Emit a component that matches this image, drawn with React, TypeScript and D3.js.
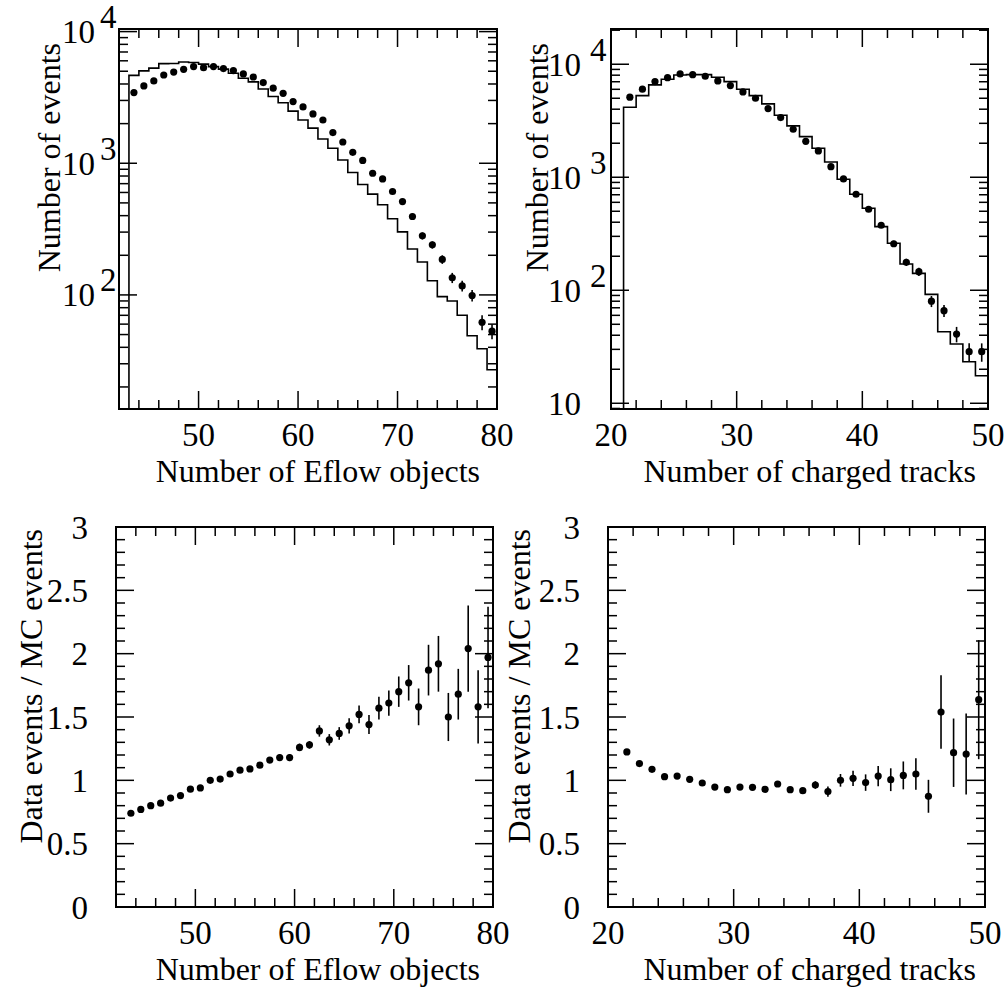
import React from "react";
import * as d3 from "d3";

// ---------- data ----------
const eflowBins = [43.5, 44.5, 45.5, 46.5, 47.5, 48.5, 49.5, 50.5, 51.5, 52.5, 53.5, 54.5, 55.5, 56.5, 57.5, 58.5, 59.5, 60.5, 61.5, 62.5, 63.5, 64.5, 65.5, 66.5, 67.5, 68.5, 69.5, 70.5, 71.5, 72.5, 73.5, 74.5, 75.5, 76.5, 77.5, 78.5, 79.5];
const trackBins = [21.5, 22.5, 23.5, 24.5, 25.5, 26.5, 27.5, 28.5, 29.5, 30.5, 31.5, 32.5, 33.5, 34.5, 35.5, 36.5, 37.5, 38.5, 39.5, 40.5, 41.5, 42.5, 43.5, 44.5, 45.5, 46.5, 47.5, 48.5, 49.5];

const eflowData = [3440, 3870, 4220, 4680, 4930, 5170, 5420, 5320, 5420, 5240, 5060, 4770, 4520, 4100, 3720, 3400, 2940, 2680, 2370, 2130, 1710, 1450, 1210, 1050, 840, 760, 610, 512, 394, 281, 240, 186, 135, 117, 99, 62, 53];
const eflowDataErr = [0, 0, 0, 0, 0, 0, 0, 0, 0, 0, 0, 0, 0, 0, 0, 0, 0, 0, 0, 0, 0, 0, 0, 0, 0, 0, 0, 0, 20, 17, 15, 14, 12, 11, 10, 8, 7];
const eflowMC = [4650, 5030, 5280, 5710, 5730, 5880, 5830, 5660, 5420, 5190, 4820, 4420, 4150, 3660, 3210, 2880, 2490, 2130, 1850, 1530, 1300, 1060, 850, 690, 583, 484, 379, 301, 223, 178, 128, 97, 90, 70, 49, 39, 27];

const trackData = [5110, 6010, 7020, 7610, 8200, 8080, 7830, 7120, 6470, 5690, 5000, 4050, 3370, 2660, 2080, 1710, 1240, 967, 707, 521, 376, 258, 177, 146, 80, 66, 41, 28.6, 28.6];
const trackDataErr = [0, 0, 0, 0, 0, 0, 0, 0, 0, 0, 0, 0, 0, 0, 0, 0, 0, 0, 0, 0, 0, 16, 13, 12, 9, 8, 6.4, 5.3, 5.3];
const trackMC = [4160, 5270, 6570, 7360, 8040, 8100, 8100, 7680, 7020, 6010, 5270, 4460, 3540, 2850, 2290, 1806, 1366, 960, 707, 532, 366, 261, 171, 141, 92, 43, 33.5, 23.3, 17.5];

const eflowRatio = [0.74, 0.77, 0.80, 0.82, 0.86, 0.88, 0.93, 0.94, 1.0, 1.01, 1.05, 1.08, 1.09, 1.12, 1.16, 1.18, 1.18, 1.26, 1.28, 1.39, 1.32, 1.37, 1.43, 1.52, 1.44, 1.57, 1.61, 1.70, 1.77, 1.58, 1.87, 1.92, 1.50, 1.68, 2.04, 1.58, 1.97];
const eflowRatioErr = [0.01, 0.01, 0.01, 0.01, 0.01, 0.01, 0.012, 0.012, 0.014, 0.015, 0.016, 0.018, 0.02, 0.02, 0.022, 0.025, 0.028, 0.03, 0.03, 0.045, 0.045, 0.05, 0.06, 0.07, 0.075, 0.09, 0.1, 0.12, 0.14, 0.145, 0.2, 0.22, 0.19, 0.2, 0.34, 0.29, 0.4];
const trackRatio = [1.224, 1.132, 1.087, 1.029, 1.034, 1.008, 0.979, 0.947, 0.926, 0.947, 0.945, 0.929, 0.971, 0.926, 0.918, 0.963, 0.911, 1.0, 1.016, 0.982, 1.034, 1.005, 1.039, 1.05, 0.874, 1.539, 1.218, 1.208, 1.637];
const trackRatioErr = [0.01, 0.01, 0.01, 0.01, 0.01, 0.01, 0.01, 0.012, 0.012, 0.013, 0.014, 0.015, 0.017, 0.019, 0.022, 0.03, 0.04, 0.05, 0.06, 0.065, 0.08, 0.09, 0.11, 0.125, 0.13, 0.29, 0.27, 0.32, 0.47];

const eflowTickLabels = [50, 60, 70, 80];
const trackTickLabels = [20, 30, 40, 50];
const ratioTickLabels = [0, 0.5, 1, 1.5, 2, 2.5, 3];
const eflowLogLabels = [100, 1000, 10000];
const trackLogLabels = [10, 100, 1000, 10000];

const eflowTitle = "Number of Eflow objects";
const trackTitle = "Number of charged tracks";
const countTitle = "Number of events";
const ratioTitle = "Data events / MC events";

// ---------- style ----------
const FONT = "'Liberation Serif','Times New Roman',Times,serif";
const FS = 33;
const TFS = 32;
const MAJ = 18;
const MIN = 9;
const R = 3.6;

type Box = { x0: number; x1: number; yb: number; yt: number };

function linTicks(lo: number, hi: number, step: number) {
  const out: number[] = [];
  const n = Math.round((hi - lo) / step);
  for (let i = 0; i <= n; i++) out.push(+(lo + i * step).toFixed(6));
  return out;
}

function logTicks(lo: number, hi: number) {
  const maj: number[] = [];
  const min: number[] = [];
  for (let d = Math.floor(Math.log10(lo)); d <= Math.ceil(Math.log10(hi)); d++) {
    for (let k = 1; k <= 9; k++) {
      const v = k * Math.pow(10, d);
      if (v < lo || v > hi) continue;
      if (k === 1) maj.push(v);
      else min.push(v);
    }
  }
  return { maj, min };
}

function TickSet({ box, xs, ys, xMaj, xMin, yMaj, yMin }: any) {
  const lines: React.ReactNode[] = [];
  let k = 0;
  const add = (x1: number, y1: number, x2: number, y2: number) =>
    lines.push(<line key={k++} x1={x1} y1={y1} x2={x2} y2={y2} stroke="#000" strokeWidth={1.5} />);
  xMaj.forEach((v: number) => {
    const x = xs(v);
    add(x, box.yb, x, box.yb - MAJ);
    add(x, box.yt, x, box.yt + MAJ);
  });
  xMin.forEach((v: number) => {
    const x = xs(v);
    add(x, box.yb, x, box.yb - MIN);
    add(x, box.yt, x, box.yt + MIN);
  });
  yMaj.forEach((v: number) => {
    const y = ys(v);
    add(box.x0, y, box.x0 + MAJ, y);
    add(box.x1, y, box.x1 - MAJ, y);
  });
  yMin.forEach((v: number) => {
    const y = ys(v);
    add(box.x0, y, box.x0 + MIN, y);
    add(box.x1, y, box.x1 - MIN, y);
  });
  return <g>{lines}</g>;
}

function FrameRect({ box }: { box: Box }) {
  return (
    <rect x={box.x0} y={box.yt} width={box.x1 - box.x0} height={box.yb - box.yt}
      fill="none" stroke="#000" strokeWidth={2} />
  );
}

function XLabels({ box, xs, labels, title, titleEnd }: any) {
  return (
    <g fontFamily={FONT} fill="#000">
      {labels.map((v: number) => (
        <text key={v} x={xs(v)} y={box.yb + 37} textAnchor="middle" fontSize={FS}>{v}</text>
      ))}
      <text x={titleEnd} y={box.yb + 73} textAnchor="end" fontSize={TFS}>{title}</text>
    </g>
  );
}

function YTitle({ x, yTop, text }: any) {
  return (
    <text transform={`translate(${x},${yTop}) rotate(-90)`} textAnchor="end"
      fontFamily={FONT} fontSize={TFS} fill="#000">{text}</text>
  );
}

function LogPanel({ box, xDom, yDom, bins, data, err, mc, xMajor, xMinor, xLabels, logLabels, title, titleEnd, yTitleX, tenGap, expGap }: any) {
  const xs = d3.scaleLinear().domain(xDom).range([box.x0, box.x1]);
  const ys = d3.scaleLog().domain(yDom).range([box.yb, box.yt]);
  const { maj, min } = logTicks(yDom[0], yDom[1]);
  const pts: [number, number][] = [];
  pts.push([xs(bins[0] - 0.5), box.yb]);
  bins.forEach((b: number, i: number) => {
    pts.push([xs(b - 0.5), ys(mc[i])]);
    pts.push([xs(b + 0.5), ys(mc[i])]);
  });
  const hist = d3.line()(pts) as string;
  return (
    <g>
      <path d={hist} fill="none" stroke="#000" strokeWidth={1.6} />
      {bins.map((b: number, i: number) => (
        <g key={i}>
          {err[i] > 0 && (
            <line x1={xs(b)} x2={xs(b)} y1={ys(data[i] - err[i])} y2={ys(data[i] + err[i])} stroke="#000" strokeWidth={1.6} />
          )}
          <circle cx={xs(b)} cy={ys(data[i])} r={R} fill="#000" />
        </g>
      ))}
      <FrameRect box={box} />
      <TickSet box={box} xs={xs} ys={ys} xMaj={xMajor} xMin={xMinor} yMaj={maj} yMin={min} />
      <g fontFamily={FONT} fontSize={FS} fill="#000">
        {logLabels.map((v: number) => {
          const e = Math.round(Math.log10(v));
          const y = ys(v);
          return (
            <g key={v}>
              <text x={box.x0 - (e === 1 ? 30 : tenGap)} y={y} dy="0.35em" textAnchor="end">10</text>
              {e !== 1 && (
                <text x={box.x0 - expGap} y={y - 15} dy="0.35em" textAnchor="start">{e}</text>
              )}
            </g>
          );
        })}
      </g>
      <XLabels box={box} xs={xs} labels={xLabels} title={title} titleEnd={titleEnd} />
      <YTitle x={yTitleX} yTop={box.yt + 14} text={countTitle} />
    </g>
  );
}

function RatioPanel({ box, xDom, bins, ratio, err, xMajor, xMinor, xLabels, title, titleEnd, yTitleX }: any) {
  const xs = d3.scaleLinear().domain(xDom).range([box.x0, box.x1]);
  const ys = d3.scaleLinear().domain([0, 3]).range([box.yb, box.yt]);
  const yMaj = linTicks(0, 3, 0.5);
  const yMin = linTicks(0, 3, 0.1).filter((v) => !yMaj.some((m) => Math.abs(m - v) < 1e-6));
  return (
    <g>
      {bins.map((b: number, i: number) => (
        <g key={i}>
          <line x1={xs(b)} x2={xs(b)} y1={ys(Math.max(0, ratio[i] - err[i]))} y2={ys(Math.min(3, ratio[i] + err[i]))} stroke="#000" strokeWidth={1.6} />
          <circle cx={xs(b)} cy={ys(ratio[i])} r={R} fill="#000" />
        </g>
      ))}
      <FrameRect box={box} />
      <TickSet box={box} xs={xs} ys={ys} xMaj={xMajor} xMin={xMinor} yMaj={yMaj} yMin={yMin} />
      <g fontFamily={FONT} fontSize={FS} fill="#000">
        {ratioTickLabels.map((v) => (
          <text key={v} x={box.x0 - 28} y={ys(v)} dy="0.35em" textAnchor="end">{v}</text>
        ))}
      </g>
      <XLabels box={box} xs={xs} labels={xLabels} title={title} titleEnd={titleEnd} />
      <YTitle x={yTitleX} yTop={box.yt + 2} text={ratioTitle} />
    </g>
  );
}

export default function App() {
  const tl: Box = { x0: 119, x1: 497, yb: 409, yt: 29 };
  const tr: Box = { x0: 611, x1: 988, yb: 409, yt: 29 };
  const bl: Box = { x0: 116, x1: 493, yb: 907, yt: 527 };
  const br: Box = { x0: 608, x1: 985, yb: 907, yt: 527 };
  const eMaj = [50, 60, 70];
  const eMin = linTicks(44, 78, 2).filter((v) => v % 10 !== 0);
  const tMaj = [30, 40];
  const tMin = linTicks(22, 48, 2).filter((v) => v % 10 !== 0);
  return (
    <svg width={1007} height={1002} style={{ position: "absolute", left: 0, top: 0, background: "#fff" }}>
      <rect x={0} y={0} width={1007} height={1002} fill="#fff" />
      <LogPanel box={tl} xDom={[42, 80]} yDom={[13.6, 10464]} bins={eflowBins} data={eflowData} err={eflowDataErr} mc={eflowMC}
        xMajor={eMaj} xMinor={eMin} xLabels={eflowTickLabels} logLabels={eflowLogLabels} title={eflowTitle} titleEnd={480}
        yTitleX={60} tenGap={24} expGap={19} />
      <LogPanel box={tr} xDom={[20, 50]} yDom={[8.9, 20500]} bins={trackBins} data={trackData} err={trackDataErr} mc={trackMC}
        xMajor={tMaj} xMinor={tMin} xLabels={trackTickLabels} logLabels={trackLogLabels} title={trackTitle} titleEnd={976}
        yTitleX={548} tenGap={30} expGap={21} />
      <RatioPanel box={bl} xDom={[42, 80]} bins={eflowBins} ratio={eflowRatio} err={eflowRatioErr}
        xMajor={eMaj} xMinor={eMin} xLabels={eflowTickLabels} title={eflowTitle} titleEnd={480} yTitleX={42} />
      <RatioPanel box={br} xDom={[20, 50]} bins={trackBins} ratio={trackRatio} err={trackRatioErr}
        xMajor={tMaj} xMinor={tMin} xLabels={trackTickLabels} title={trackTitle} titleEnd={976} yTitleX={530} />
    </svg>
  );
}
